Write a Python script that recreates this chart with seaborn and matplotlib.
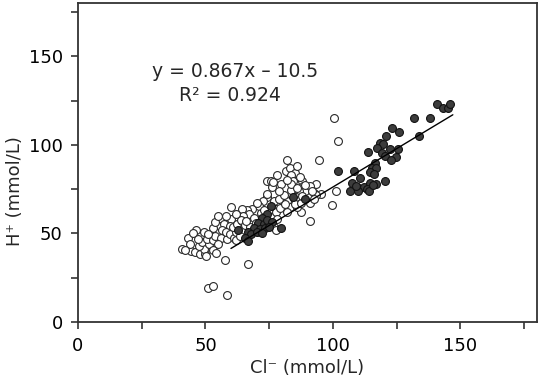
import numpy as np
import pandas as pd
import seaborn as sns
import matplotlib
matplotlib.use("Agg")
import matplotlib.pyplot as plt
from matplotlib.ticker import MultipleLocator, FuncFormatter

# Open circles (Cl-, H+)
open_cl = [100.5, 102.1, 94.7, 81.9, 81.4, 83.2, 85.3, 74.1, 75.7, 76.2, 79.6, 83.5, 87.7, 88.2,
           89.0, 93.2, 92.4, 95.3, 101.0, 99.7, 91.1, 87.4, 60.2, 74.1, 72.5, 70.9, 68.3, 66.2,
           64.4, 67.0, 69.1, 64.9, 62.8, 60.2, 56.0, 55.5, 52.9, 49.5, 46.1, 43.2, 77.5, 75.7,
           80.6, 81.9, 83.0, 85.9, 77.0, 53.9, 57.3, 59.7, 45.0, 40.8, 44.5, 45.8, 47.9, 50.0,
           49.5, 47.4, 48.7, 51.3, 50.5, 52.9, 53.9, 56.0, 58.4, 55.0, 53.1, 54.2, 57.6, 56.5,
           58.1, 59.7, 61.2, 61.8, 60.7, 62.3, 64.4, 66.5, 50.3, 51.0, 53.1, 58.4, 51.0, 76.4,
           93.4, 86.7, 85.6, 90.8, 92.4, 90.8, 71.7, 77.7, 79.3, 81.2, 85.3, 87.4, 64.1, 65.4,
           67.5, 78.0, 61.9, 63.6, 83.5, 84.5, 87.2, 83.7, 85.9, 89.2, 91.6, 70.2, 74.1, 76.9,
           79.0, 80.6, 77.5, 70.0, 73.0, 66.0, 62.0, 58.0, 55.0, 47.0, 44.0, 42.0, 82.0, 79.0,
           82.0, 78.0, 86.0, 88.0]
open_h = [115.0, 102.2, 91.4, 91.4, 85.0, 86.9, 83.9, 79.4, 79.4, 76.0, 77.9, 74.5, 79.8, 76.8,
          74.2, 77.9, 73.0, 72.3, 74.2, 66.3, 56.9, 62.2, 64.8, 70.4, 68.1, 65.2, 63.7, 63.3,
          63.7, 61.1, 58.8, 59.6, 57.3, 58.0, 57.7, 54.3, 53.2, 50.6, 52.1, 47.6, 63.7, 59.2,
          65.6, 68.5, 64.8, 64.8, 53.5, 56.2, 55.1, 54.3, 50.5, 41.2, 40.1, 39.3, 38.6, 38.2,
          41.2, 42.7, 45.3, 43.8, 46.8, 46.1, 48.3, 47.6, 46.8, 43.8, 40.8, 38.9, 34.8, 51.7,
          50.6, 49.4, 47.6, 50.6, 53.5, 55.4, 56.9, 33.0, 37.5, 19.1, 20.2, 15.0, 49.5, 79.0,
          71.5, 73.8, 70.4, 67.0, 69.3, 76.8, 61.8, 62.2, 64.4, 66.6, 66.6, 67.4, 57.3, 54.7,
          53.5, 58.4, 46.1, 48.3, 83.1, 79.8, 82.0, 77.9, 75.7, 77.1, 74.2, 67.4, 72.3, 68.5,
          69.3, 71.5, 51.7, 56.0, 63.0, 57.0, 61.0, 60.0, 60.0, 47.0, 44.0, 40.5, 62.0, 74.0,
          80.0, 83.0, 88.0, 71.0]

# Filled circles (Cl-, H+)
filled_cl = [140.8, 143.2, 145.0, 145.8, 131.9, 137.9, 123.3, 125.9, 120.9, 133.8, 118.6, 119.6,
             117.3, 122.5, 125.6, 113.9, 119.1, 120.4, 124.6, 122.8, 116.5, 102.1, 108.4, 115.2,
             117.0, 114.6, 115.9, 110.5, 120.4, 107.6, 109.4, 112.0, 114.6, 116.7, 113.4, 106.8,
             109.7, 114.1, 115.7, 108.9, 89.1, 84.3, 75.7, 74.1, 72.0, 70.7, 72.8, 74.3, 75.9,
             69.1, 71.5, 73.3, 75.1, 79.8, 62.7, 66.7, 67.8, 70.2, 72.2, 65.4, 66.5]
filled_h = [123.2, 120.6, 120.6, 123.2, 115.0, 115.0, 109.7, 107.1, 104.9, 104.9, 101.1, 100.4,
            98.1, 97.8, 97.8, 95.9, 95.5, 93.6, 93.3, 91.4, 89.5, 85.0, 85.0, 86.9,
            86.9, 84.7, 83.5, 81.3, 79.4, 78.3, 76.0, 76.0, 78.3, 77.9, 75.3, 74.2,
            74.2, 74.2, 77.1, 76.8, 69.3, 70.8, 65.2, 60.7, 58.8, 55.8, 55.4, 57.3, 56.6,
            53.2, 52.4, 52.8, 53.9, 53.2, 51.7, 50.6, 49.8, 50.6, 50.2, 47.2, 45.7]

# Regression line y = 0.867x - 10.5
slope, intercept = 0.867, -10.5
line_x = [60.0, 147.0]

sns.set_style("ticks")
plt.rcParams['font.family'] = ['DejaVu Sans']

fig = plt.figure(figsize=(5.4, 3.82), dpi=100)
ax = fig.add_axes([0.1444, 0.157, 0.85, 0.835])

df_open = pd.DataFrame({"cl": open_cl, "h": open_h})
df_fill = pd.DataFrame({"cl": filled_cl, "h": filled_h})

sns.scatterplot(data=df_open, x="cl", y="h", ax=ax, s=32, color="white",
                edgecolor="#2a2a2a", linewidth=0.8, zorder=2)
sns.scatterplot(data=df_fill, x="cl", y="h", ax=ax, s=32, color="#3c3c3c",
                edgecolor="#111111", linewidth=0.8, zorder=3)
lx = np.array(line_x)
sns.lineplot(x=lx, y=slope * lx + intercept, ax=ax, color="black", linewidth=1.0, zorder=4)

ax.set_xlim(0, 180)
ax.set_ylim(0, 180)
ax.xaxis.set_major_locator(MultipleLocator(25))
ax.yaxis.set_major_locator(MultipleLocator(25))
fmt = FuncFormatter(lambda v, p: f"{int(v)}" if v % 50 == 0 else "")
ax.xaxis.set_major_formatter(fmt)
ax.yaxis.set_major_formatter(fmt)
ax.tick_params(axis="both", direction="out", length=5, width=1.2, colors="#333333",
               labelcolor="black", labelsize=13, pad=6)

for sp in ax.spines.values():
    sp.set_visible(True)
    sp.set_color("#333333")
    sp.set_linewidth(1.3)

ax.set_xlabel("Cl⁻ (mmol/L)", fontsize=13, labelpad=3)
ax.set_ylabel("H⁺ (mmol/L)", fontsize=13)
ax.yaxis.set_label_coords(-0.118, 0.41)

ax.text(61.6, 141.5, "y = 0.867x – 10.5", fontsize=13.5, ha="center", va="center")
ax.text(59.6, 128, "R² = 0.924", fontsize=13.5, ha="center", va="center")

fig.savefig("out.png", dpi=100)
